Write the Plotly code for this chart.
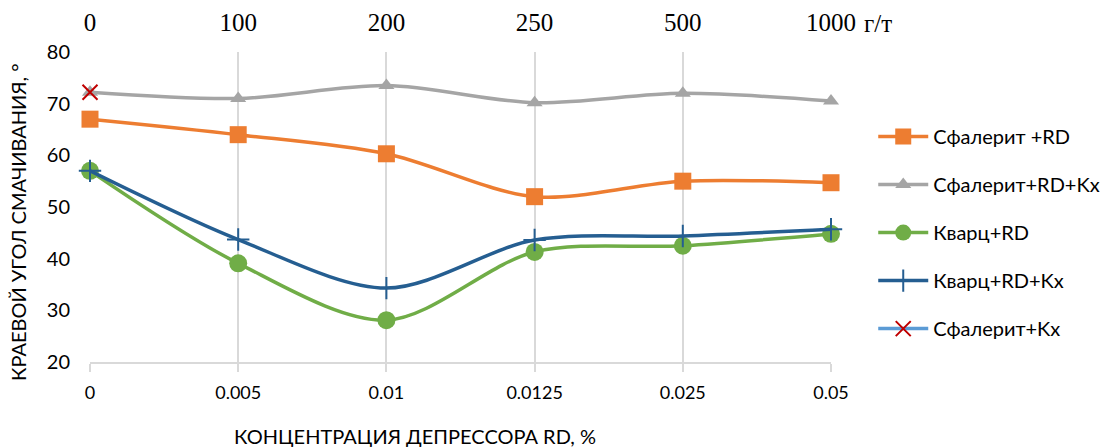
import plotly.graph_objects as go

# Depressor RD concentration, % (bottom axis) and dosage, g/t (top axis)
concentration = ["0", "0.005", "0.01", "0.0125", "0.025", "0.05"]
dosage = ["0", "100", "200", "250", "500", "1000"]

# Contact angle, degrees
sphalerite_rd = [67.0, 64.0, 60.3, 52.0, 55.0, 54.7]
sphalerite_rd_kx = [72.2, 71.0, 73.5, 70.2, 72.0, 70.5]
quartz_rd = [57.0, 39.1, 28.1, 41.3, 42.5, 44.8]
quartz_rd_kx = [57.0, 43.7, 34.3, 43.6, 44.4, 45.7]
sphalerite_kx = [72.2]

FONT = "Lato, 'Liberation Sans', sans-serif"
SERIF = "'Liberation Serif', 'DejaVu Serif', serif"
GRID = "#D9D9D9"
NOCOLOR = "rgba(0,0,0,0)"

fig = go.Figure()

def add_series(name, y, color, symbol, size, group, marker_line=None):
    marker = dict(symbol=symbol, size=size, color=color)
    if marker_line is not None:
        marker["line"] = marker_line
    fig.add_trace(go.Scatter(
        x=concentration, y=y, name=name,
        mode="lines+markers", cliponaxis=False,
        line=dict(color=color, width=3.5, shape="spline", smoothing=0.9),
        marker=marker, legendgroup=group,
    ))

add_series("Сфалерит +RD", sphalerite_rd, "#ED7D31", "square", 17, "g1")
add_series("Сфалерит+RD+Kx", sphalerite_rd_kx, "#A5A5A5", "triangle-up", 14, "g2")
add_series("Кварц+RD", quartz_rd, "#70AD47", "circle", 18, "g3")
add_series("Кварц+RD+Kx", quartz_rd_kx, "#255E91", "cross-thin", 16, "g4",
           marker_line=dict(color="#255E91", width=2))

# Single measurement: line colour shown in legend, red cross marker
fig.add_trace(go.Scatter(
    x=concentration[:1], y=sphalerite_kx, name="Сфалерит+Kx",
    mode="lines+markers", cliponaxis=False,
    line=dict(color="#5B9BD5", width=3.5),
    marker=dict(symbol="x-thin", size=15, color="#C00000",
                line=dict(color="#C00000", width=2)),
    legendgroup="g5",
))

# Invisible trace to carry the top dosage axis
fig.add_trace(go.Scatter(x=dosage, y=[None] * len(dosage), xaxis="x2",
                         showlegend=False, hoverinfo="skip"))

fig.update_layout(
    width=1109, height=448,
    margin=dict(l=90, r=278, t=52, b=86, autoexpand=False),
    paper_bgcolor="white", plot_bgcolor="white",
    font=dict(family=FONT, color="#000000"),
    xaxis=dict(
        type="category", range=[0, 5],
        showgrid=True, gridcolor=GRID, gridwidth=2,
        showline=True, linecolor=GRID, linewidth=2,
        ticks="outside", ticklen=8, tickwidth=2, tickcolor=GRID,
        tickfont=dict(size=18, family=FONT, color="#000000"),
        ticklabelstandoff=5,
        zeroline=False,
    ),
    xaxis2=dict(
        type="category", range=[0, 5], overlaying="x", side="top",
        showgrid=False, showline=False,
        ticks="outside", ticklen=10, tickcolor=NOCOLOR,
        tickfont=dict(size=25, family=SERIF, color="#000000"),
    ),
    yaxis=dict(
        range=[20, 80], dtick=10, showgrid=False, zeroline=False,
        showline=False,
        ticks="outside", ticklen=15, tickcolor=NOCOLOR,
        tickfont=dict(size=20, family=FONT, color="#000000"),
    ),
    legend=dict(
        x=1.057, xanchor="left", y=0.79, yanchor="top",
        font=dict(size=20, family=FONT, color="#000000"),
        tracegroupgap=19, itemwidth=50,
        bgcolor="rgba(0,0,0,0)",
    ),
    annotations=[
        dict(text="КОНЦЕНТРАЦИЯ ДЕПРЕССОРА RD, %", xref="paper", yref="paper",
             x=(415 - 90) / 741, y=-(436 - 362) / 310, yanchor="middle",
             showarrow=False, font=dict(size=20, family=FONT)),
        dict(text="КРАЕВОЙ УГОЛ СМАЧИВАНИЯ, °", xref="paper", yref="paper",
             x=-(90 - 18) / 741, y=(362 - 222) / 310, xanchor="center",
             yanchor="middle", showarrow=False,
             textangle=-90, font=dict(size=20, family=FONT)),
        dict(text="г/т", xref="paper", yref="paper",
             x=(862 - 90) / 741, xanchor="left", y=(362 - 23) / 310,
             yanchor="middle", showarrow=False,
             font=dict(size=25, family=SERIF)),
    ],
)

fig.write_html("out.html")
